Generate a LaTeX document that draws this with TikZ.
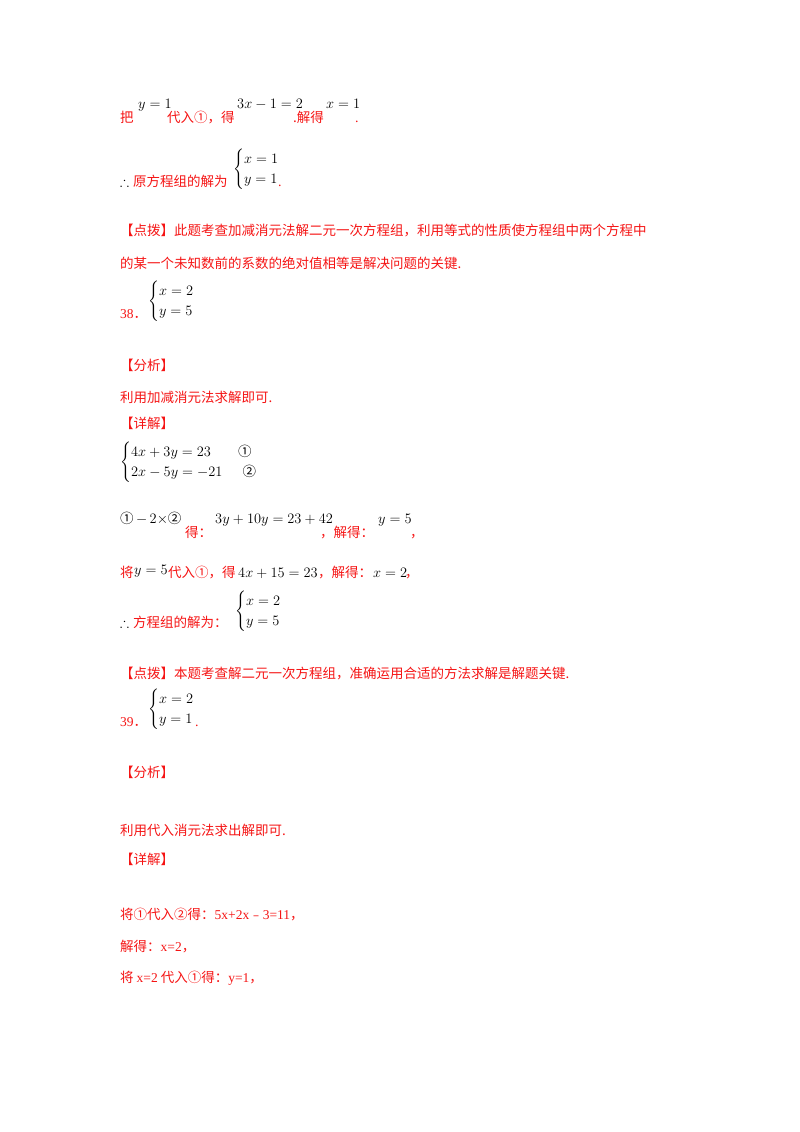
\documentclass[tikz,border=0pt]{standalone}
\usepackage{amsmath,amssymb}
\usepackage{fontspec}
\setmainfont{Liberation Serif}
\newfontfamily\zhf{Noto Sans CJK SC}
\definecolor{rd}{RGB}{245,20,20}
\tikzset{
 zh/.style={anchor=base west, inner sep=0pt, text=rd, font=\zhf\fontsize{13.5}{16}\selectfont},
 rn/.style={anchor=base west, inner sep=0pt, text=rd, font=\fontsize{14}{16}\selectfont},
 mt/.style={anchor=base west, inner sep=0pt, text=black, font=\fontsize{13.5}{16}\selectfont},
 sys/.style={anchor=west, inner sep=0pt, text=black, font=\fontsize{13.5}{16}\selectfont},
}
\newcommand{\sysof}[2]{$\renewcommand{\arraystretch}{1.25}\left\{\begin{array}{@{}l@{}}#1\\#2\end{array}\right.$}
\newcommand{\ca}{{\zhf ①}}
\newcommand{\cb}{{\zhf ②}}
\begin{document}
\begin{tikzpicture}[x=1pt,y=-1pt]
\useasboundingbox (0,0) rectangle (800,1132);
% line 1
\node[zh] (a1) at (120,122) {把};
\node[mt] (a2) at (138,108) {$y=1$};
\node[zh] (a3) at (167,122) {代入①，得};
\node[mt] (a4) at (237,108) {$3x-1=2$};
\node[zh] (a5) at (293,122) {.解得};
\node[mt] (a6) at (326,108) {$x=1$};
\node[rn] (a7) at (355,122) {.};
% line 2
\node[mt] (b1) at (120,186) {$\therefore$};
\node[zh] (b2) at (133,186) {原方程组的解为};
\node[sys] (b3) at (233,169) {\sysof{x=1}{y=1}};
\node[rn] (b4) at (278,186) {.};
% dianbo
\node[zh] (c1) at (120,235) {【点拨】此题考查加减消元法解二元一次方程组，利用等式的性质使方程组中两个方程中};
\node[zh] (c2) at (120,268) {的某一个未知数前的系数的绝对值相等是解决问题的关键.};
% 38
\node[zh] (d1) at (120,318) {\fontspec{Liberation Serif}38\zhf．};
\node[sys] (d2) at (148,301) {\sysof{x=2}{y=5}};
\node[zh] (e1) at (120,370) {【分析】};
\node[zh] (e2) at (120,402) {利用加减消元法求解即可.};
\node[zh] (e3) at (120,428) {【详解】};
\node[sys] (f1) at (120,462) {\sysof{4x+3y=23\hspace{2em}\text{\ca}}{2x-5y=-21\hspace{1.5em}\text{\cb}}};
\node[mt] (g1) at (120,523) {\ca$\,-\,2\times$\cb};
\node[zh] (g2) at (185,537) {得：};
\node[mt] (g3) at (215,523) {$3y+10y=23+42$};
\node[zh] (g4) at (320,537) {，解得：};
\node[mt] (g5) at (378,523) {$y=5$};
\node[zh] (g6) at (410,537) {，};
\node[zh] (h1) at (120,577) {将};
\node[mt] (h2) at (134,574) {$y=5$};
\node[zh] (h3) at (168,577) {代入①，得};
\node[mt] (h4) at (238,577) {$4x+15=23$};
\node[zh] (h5) at (318,577) {，解得：};
\node[mt] (h6) at (373,577) {$x=2$};
\node[zh] (h7) at (405,577) {，};
\node[mt] (i1) at (120,627) {$\therefore$};
\node[zh] (i2) at (133,627) {方程组的解为：};
\node[sys] (i3) at (235,611) {\sysof{x=2}{y=5}};
\node[zh] (j1) at (120,678) {【点拨】本题考查解二元一次方程组，准确运用合适的方法求解是解题关键.};
\node[zh] (k1) at (120,726) {\fontspec{Liberation Serif}39\zhf．};
\node[sys] (k2) at (148,709) {\sysof{x=2}{y=1}};
\node[rn] (k3) at (195,726) {.};
\node[zh] (l1) at (120,777) {【分析】};
\node[zh] (l2) at (120,835) {利用代入消元法求出解即可.};
\node[zh] (l3) at (120,864) {【详解】};
\node[zh] (m1) at (120,919) {将①代入②得：\fontspec{Liberation Serif}5x+2x\zhf﹣\fontspec{Liberation Serif}3=11\zhf，};
\node[zh] (m2) at (120,951) {解得：\fontspec{Liberation Serif}x=2\zhf，};
\node[zh] (m3) at (120,982) {将 \fontspec{Liberation Serif}x=2\zhf\ 代入①得：\fontspec{Liberation Serif}y=1\zhf，};
\end{tikzpicture}
\end{document}
